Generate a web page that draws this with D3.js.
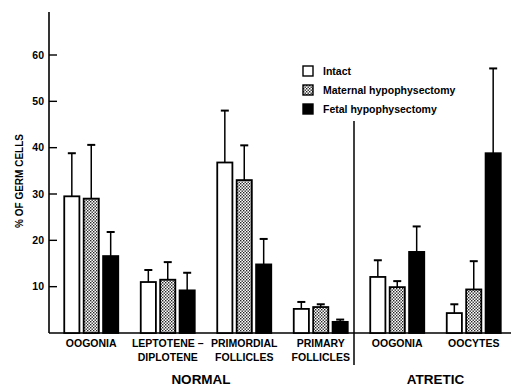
<!DOCTYPE html>
<html>
<head>
<meta charset="utf-8">
<script src="https://cdn.jsdelivr.net/npm/d3@7"></script>
<style>
  body { margin: 0; background: #fff; }
  text { font-family: "Liberation Sans", Arial, sans-serif; font-weight: bold; fill: #000; }
</style>
</head>
<body>
<svg id="chart" width="512" height="388"></svg>
<script>
// data
const groupIds = ["oog", "lep", "prim", "primary", "aoog", "aoc"];
const groupLabels = [["OOGONIA"], ["LEPTOTENE –", "DIPLOTENE"], ["PRIMORDIAL", "FOLLICLES"], ["PRIMARY", "FOLLICLES"], ["OOGONIA"], ["OOCYTES"]];
const seriesNames = ["Intact", "Maternal hypophysectomy", "Fetal hypophysectomy"];
const intact = [29.5, 11, 36.8, 5.2, 12.1, 4.3];
const intactErr = [38.8, 13.6, 48, 6.7, 15.7, 6.2];
const maternal = [29, 11.5, 33, 5.6, 9.9, 9.4];
const maternalErr = [40.6, 15.3, 40.5, 6.2, 11.2, 15.5];
const fetal = [16.6, 9.2, 14.8, 2.4, 17.5, 38.8];
const fetalErr = [21.8, 13, 20.3, 2.9, 23, 57.1];
const yTicks = [10, 20, 30, 40, 50, 60];
const sections = [{name: "NORMAL", from: 0, to: 3}, {name: "ATRETIC", from: 4, to: 5}];

const svg = d3.select("#chart");

// stipple pattern for maternal bars
const defs = svg.append("defs");
const pat = defs.append("pattern")
  .attr("id", "stipple")
  .attr("width", 3).attr("height", 3)
  .attr("patternUnits", "userSpaceOnUse");
pat.append("rect").attr("width", 3).attr("height", 3).attr("fill", "#fff");
pat.append("rect").attr("x", 0).attr("y", 0).attr("width", 1.4).attr("height", 1.4).attr("fill", "#222");
pat.append("rect").attr("x", 1.5).attr("y", 1.5).attr("width", 1.4).attr("height", 1.4).attr("fill", "#222");

const fills = ["#fff", "url(#stipple)", "#000"];
const vals = [intact, maternal, fetal];
const errs = [intactErr, maternalErr, fetalErr];

const y = d3.scaleLinear().domain([0, 60]).range([333, 55]);
const x0 = d3.scaleBand().domain(groupIds).range([53, 512]);
const x1 = d3.scaleBand().domain(seriesNames).range([-27, 27]).paddingInner(0.22);

// y axis
const axisX = 49;
svg.append("line")
  .attr("x1", axisX).attr("x2", axisX)
  .attr("y1", 12).attr("y2", y(0))
  .attr("stroke", "#000").attr("stroke-width", 1.6);
svg.append("line")
  .attr("x1", axisX).attr("x2", 511)
  .attr("y1", y(0)).attr("y2", y(0))
  .attr("stroke", "#000").attr("stroke-width", 1.6);

const tk = svg.append("g");
tk.selectAll("line").data(yTicks).join("line")
  .attr("x1", axisX).attr("x2", axisX + 8)
  .attr("y1", d => y(d)).attr("y2", d => y(d))
  .attr("stroke", "#000").attr("stroke-width", 1.4);
tk.selectAll("text").data(yTicks).join("text")
  .attr("x", axisX - 5).attr("y", d => y(d) + 3.5)
  .attr("text-anchor", "end")
  .attr("font-size", 10.5)
  .text(d => d);

svg.append("text")
  .attr("transform", "translate(23,181) rotate(-90)")
  .attr("text-anchor", "middle")
  .attr("font-size", 10)
  .text("% OF GERM CELLS");

// bars
const bars = [];
groupIds.forEach((g, i) => {
  seriesNames.forEach((s, j) => {
    bars.push({g, s, j, v: vals[j][i], e: errs[j][i]});
  });
});

const cx = d => x0(d.g) + x0.bandwidth() / 2 + x1(d.s) + x1.bandwidth() / 2;
const barG = svg.append("g");
// error bars first
barG.selectAll("line.err").data(bars).join("line")
  .attr("class", "err")
  .attr("x1", cx).attr("x2", cx)
  .attr("y1", d => y(d.v)).attr("y2", d => y(d.e))
  .attr("stroke", "#000").attr("stroke-width", 1.5);
barG.selectAll("line.cap").data(bars).join("line")
  .attr("class", "cap")
  .attr("x1", d => cx(d) - 4).attr("x2", d => cx(d) + 4)
  .attr("y1", d => y(d.e)).attr("y2", d => y(d.e))
  .attr("stroke", "#000").attr("stroke-width", 2);
barG.selectAll("rect").data(bars).join("rect")
  .attr("x", d => x0(d.g) + x0.bandwidth() / 2 + x1(d.s))
  .attr("y", d => y(d.v))
  .attr("width", x1.bandwidth())
  .attr("height", d => y(0) - y(d.v))
  .attr("fill", d => fills[d.j])
  .attr("stroke", "#000").attr("stroke-width", 1.8);

// category labels
const lab = svg.append("g");
groupIds.forEach((g, i) => {
  const t = lab.append("text")
    .attr("x", x0(g) + x0.bandwidth() / 2)
    .attr("y", 347)
    .attr("text-anchor", "middle")
    .attr("font-size", 10.5);
  groupLabels[i].forEach((line, k) => {
    t.append("tspan")
      .attr("x", x0(g) + x0.bandwidth() / 2)
      .attr("dy", k === 0 ? 0 : 13.5)
      .text(line);
  });
});

// section labels
sections.forEach(s => {
  const a = x0(groupIds[s.from]);
  const b = x0(groupIds[s.to]) + x0.bandwidth();
  svg.append("text")
    .attr("x", (a + b) / 2 - (s.name === "NORMAL" ? 5 : 0))
    .attr("y", 384)
    .attr("text-anchor", "middle")
    .attr("font-size", 13.5)
    .text(s.name);
});

// divider between normal and atretic
const divX = x0(groupIds[4]) - 5;
svg.append("line")
  .attr("x1", divX).attr("x2", divX)
  .attr("y1", 121).attr("y2", 365)
  .attr("stroke", "#000").attr("stroke-width", 1.5);

// legend
const leg = svg.append("g").attr("transform", "translate(303,66)");
seriesNames.forEach((s, j) => {
  const row = leg.append("g").attr("transform", `translate(0,${j * 19})`);
  row.append("rect")
    .attr("width", 10).attr("height", 10)
    .attr("fill", fills[j])
    .attr("stroke", "#000").attr("stroke-width", 1.4);
  row.append("text")
    .attr("x", 20).attr("y", 8.5)
    .attr("font-size", 10.5)
    .text(s);
});
</script>
</body>
</html>
